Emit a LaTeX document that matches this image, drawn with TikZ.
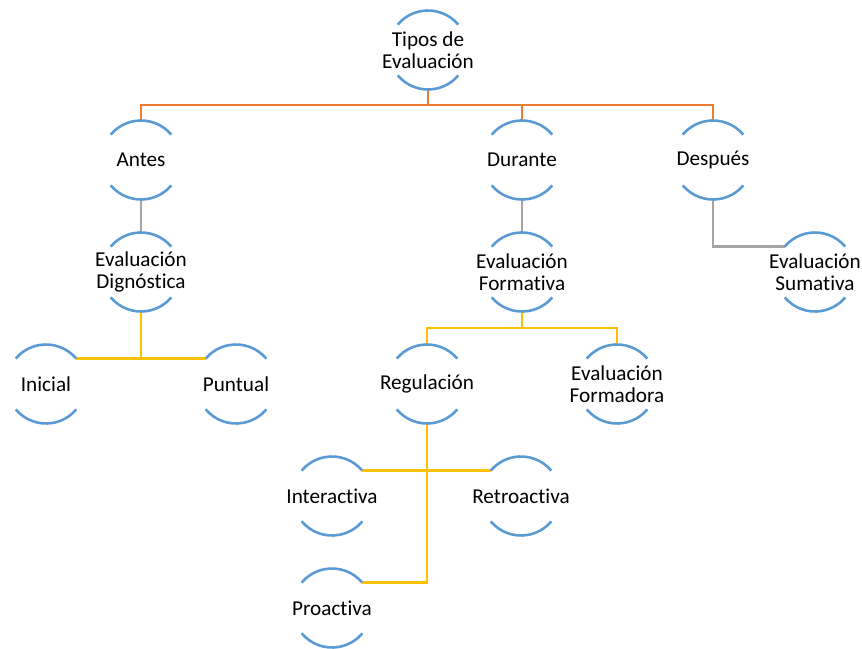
\documentclass[tikz,border=0pt]{standalone}
\usepackage{fontspec}
\setmainfont{Carlito}[Ligatures=NoCommon]
\usepackage{tikz}
\definecolor{rimblue}{HTML}{5B9BD5}
\definecolor{linkorange}{HTML}{ED7D31}
\definecolor{linkgray}{HTML}{A5A5A5}
\definecolor{linkyellow}{HTML}{FFC000}

\begin{document}
\begin{tikzpicture}[x=1pt, y=1pt,
    bubble/.style={circle, minimum size=79pt, inner sep=-20pt, outer sep=0pt, align=center, font=\fontsize{21.2}{22}\selectfont},
    rim/.style={line width=2.6pt, rimblue},
    link/.style={line width=2.6pt},
]
  \useasboundingbox (0,-648) rectangle (862,0);

  \node[bubble] (tipos) at (428, -50) {Tipos de\\Evaluación};

  \node[bubble] (antes) at (141, -160) {Antes};
  \node[bubble] (durante) at (522, -160) {Durante};
  \node[bubble] (despues) at (713, -160) {Después};

  \node[bubble] (dignostica) at (141, -272) {Evaluación\\Dignóstica};
  \node[bubble] (formativa) at (522, -272) {Evaluación\\Formativa};
  \node[bubble] (sumativa) at (815, -272) {Evaluación\\Sumativa};

  \node[bubble] (inicial) at (46, -384) {Inicial};
  \node[bubble] (puntual) at (236, -384) {Puntual};
  \node[bubble] (regulacion) at (427, -384) {Regulación};
  \node[bubble] (formadora) at (617, -384) {Evaluación\\Formadora};

  \node[bubble] (interactiva) at (332, -496) {Interactiva};
  \node[bubble] (retroactiva) at (521, -496) {Retroactiva};
  \node[bubble] (proactiva) at (332, -608) {Proactiva};

  % connectors
  \foreach \c in {antes, durante, despues}
    \draw[link, linkorange] (tipos.south) -- ++(0,-15.5) -| (\c.north);
  \draw[link, linkgray] (antes.south) -- (dignostica.north);
  \draw[link, linkgray] (durante.south) -- (formativa.north);
  \draw[link, linkgray] (despues.south) |- (sumativa.140);
  \draw[link, linkyellow] (dignostica.south) |- (inicial.40);
  \draw[link, linkyellow] (dignostica.south) |- (puntual.140);
  \foreach \c in {regulacion, formadora}
    \draw[link, linkyellow] (formativa.south) -- ++(0,-16.5) -| (\c.north);
  \draw[link, linkyellow] (regulacion.south) |- (interactiva.40);
  \draw[link, linkyellow] (regulacion.south) |- (retroactiva.140);
  \draw[link, linkyellow] (regulacion.south) |- (proactiva.40);

  % open circles
  \foreach \n in {tipos, antes, durante, despues, dignostica, formativa, sumativa,
                  inicial, puntual, regulacion, formadora, interactiva, retroactiva, proactiva} {
    \draw[rim] (\n.40) arc[start angle=40, end angle=140, radius=39.5pt];
    \draw[rim] (\n.220) arc[start angle=220, end angle=320, radius=39.5pt];
  }
\end{tikzpicture}
\end{document}
